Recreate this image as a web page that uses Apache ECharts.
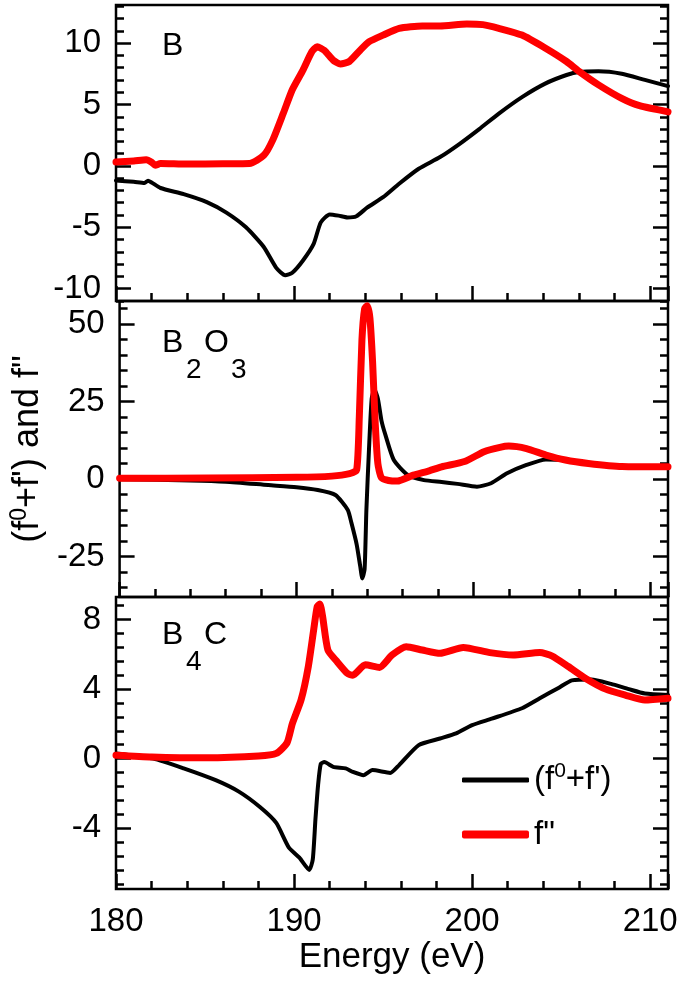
<!DOCTYPE html>
<html><head><meta charset="utf-8">
<script src="https://cdn.jsdelivr.net/npm/echarts@6/dist/echarts.min.js"></script>
<style>html,body{margin:0;padding:0;background:#fff}#c{width:685px;height:988px}</style>
</head><body><div id="c"></div>
<script>
// ---------- data ----------
const p1BlackE=[180,181,181.6,181.8,182,182.5,183.8,185.1,186.2,187.3,188.3,189,189.5,189.9,190.5,191.1,191.5,192,192.5,193,193.5,194.1,195,195.9,197,198.2,199.3,200.4,201.5,202.8,204.1,205.3,206,207.1,208.4,209.7,211];
const p1BlackV=[-1.18,-1.3,-1.4,-1.2,-1.35,-1.8,-2.3,-2.95,-3.8,-5.0,-6.6,-8.3,-8.9,-8.7,-7.7,-6.35,-4.6,-3.95,-4.05,-4.2,-4.1,-3.4,-2.55,-1.45,-0.23,0.72,1.8,3.0,4.26,5.6,6.7,7.4,7.65,7.7,7.5,7.0,6.5];
const p1RedE=[180,181,181.7,182,182.2,182.5,184,186,187.5,188.3,188.8,189.4,189.9,190.5,191,191.3,191.7,192.2,192.6,193.1,193.7,194.2,195,195.9,197.2,198.2,199.7,200.6,201.5,202.8,204.1,205.3,206,207.1,208.4,209.4,211];
const p1RedV=[0.31,0.4,0.5,0.3,0.05,0.2,0.15,0.18,0.2,0.86,2.1,4.3,6.2,7.8,9.3,9.7,9.4,8.6,8.3,8.5,9.4,10.1,10.65,11.2,11.4,11.4,11.55,11.5,11.2,10.65,9.6,8.5,7.7,6.6,5.5,4.9,4.4];

const p2BlackE=[180,184,186,188.4,190,191.2,192.2,192.9,193.1,193.4,193.6,193.72,193.85,193.95,194.1,194.25,194.4,194.6,194.8,195,195.5,196.3,197.2,198.2,199.1,200.2,201,201.9,203,204.1,205.2,206.5,208.4,211];
const p2BlackV=[0,-0.4,-0.8,-1.9,-2.6,-3.5,-5.1,-9.9,-14,-21,-28,-32,-29,-10,10,26,29,26,19,14.8,6.2,1.35,-0.3,-0.9,-1.5,-2.4,-1.3,1.9,4.6,6.4,6.2,5.1,4.3,4.1];
const p2RedE=[180,185,190,192,193,193.4,193.55,193.7,193.85,194,194.15,194.3,194.45,194.6,194.8,195.2,195.7,196.6,197.5,198.2,199.5,200.6,201.5,202,203,204.1,205.2,206.5,208.4,211];
const p2RedV=[0.3,0.4,0.6,1.0,1.8,3,20,45,55,56,52,38,18,5,0.5,-0.4,-0.6,1.3,2.7,4.0,5.7,8.9,10.3,10.7,9.9,7.8,6.2,5.1,4.1,4.0];

const p3BlackE=[180,182.1,183.8,185.6,186.9,188.1,189,189.7,190.3,190.85,191.05,191.2,191.35,191.5,191.7,192.2,192.9,193.3,193.9,194.4,195.4,195.9,197,198.2,199.1,200,201.1,202.8,203.8,204.9,205.6,206.7,207.8,208.8,209.7,211];
const p3BlackV=[0.3,0,-0.56,-1.24,-1.9,-2.8,-3.7,-5.1,-5.7,-6.4,-5.8,-3.5,-1.5,-0.3,-0.2,-0.47,-0.56,-0.76,-0.95,-0.66,-0.82,-0.37,0.78,1.16,1.45,1.93,2.3,2.9,3.47,4.1,4.5,4.56,4.3,4.0,3.75,3.66];
const p3RedE=[180,182,185,188,189,189.6,189.9,190.4,190.8,191.1,191.3,191.45,191.6,191.9,192.4,193,193.3,194,194.8,195.5,196.3,197.2,198.2,199.5,201,202.3,203.8,204.5,205.4,206.4,207.5,208.6,209.7,211];
const p3RedV=[0.2,0.1,0.05,0.15,0.3,0.9,2.0,3.4,5.3,7.4,8.75,8.9,8.2,6.25,5.6,4.9,4.8,5.4,5.25,5.96,6.44,6.25,6.06,6.4,6.1,5.96,6.1,5.9,5.3,4.6,4.0,3.66,3.37,3.47];

// ticks
const yMajor1=[-10,-5,0,5,10];
const yMinor1=[-11,-10,-9,-8,-7,-6,-5,-4,-3,-2,-1,0,1,2,3,4,5,6,7,8,9,10,11,12,13];
const yMajor2=[-25,0,25,50];
const yMinor2=[-35,-30,-25,-20,-15,-10,-5,0,5,10,15,20,25,30,35,40,45,50,55];
const yMajor3=[-4,0,4,8];
const yMinor3=[-7.2,-6.4,-5.6,-4.8,-4,-3.2,-2.4,-1.6,-0.8,0,0.8,1.6,2.4,3.2,4,4.8,5.6,6.4,7.2,8,8.8];
const xMajorTicks=[180,190,200,210];
const seriesNames=["(f0+f')",'f"'];

// ---------- layout ----------
const FONT='Liberation Sans, Arial, sans-serif';
const grids=[{top:5,height:296},{top:301,height:296},{top:597,height:292}];
const yRanges=[[-11,13.1],[-38,57.5],[-7.5,9.3]];
const yMaj=[yMajor1,yMajor2,yMajor3], yMin=[yMinor1,yMinor2,yMinor3];
const TW=2.5;
const noLine={show:false,onZero:false};

const gridOpt=grids.map(g=>({left:116,width:552,top:g.top,height:g.height,show:true,borderColor:'#000',borderWidth:TW,backgroundColor:'transparent'}));
const xAxes=[],yAxes=[];
grids.forEach((g,i)=>{
  const base={type:'value',gridIndex:i,min:180,max:211,position:'bottom',axisLine:noLine,splitLine:{show:false}};
  xAxes.push(Object.assign({},base,{interval:2,axisTick:{inside:true,length:8,lineStyle:{width:TW,color:'#000'}},axisLabel:{show:false}}));
  xAxes.push(Object.assign({},base,{interval:10,axisTick:{inside:true,length:15,lineStyle:{width:TW,color:'#000'}},
    axisLabel:{show:i===2,margin:16,fontSize:33,color:'#000',fontFamily:FONT,
      customValues:xMajorTicks,align:'center',alignMinLabel:'center'},
    name:i===2?'Energy (eV)':'',nameLocation:'middle',nameGap:51,nameTextStyle:{fontSize:35,color:'#000',fontFamily:FONT}}));
  ['left','right'].forEach(pos=>{
    const yb={type:'value',gridIndex:i,min:yRanges[i][0],max:yRanges[i][1],position:pos,axisLine:noLine,splitLine:{show:false}};
    yAxes.push(Object.assign({},yb,{axisTick:{inside:true,length:8,customValues:yMin[i],lineStyle:{width:TW,color:'#000'}},axisLabel:{show:false}}));
    const major=Object.assign({},yb,{axisTick:{inside:true,length:15,customValues:yMaj[i],lineStyle:{width:TW,color:'#000'}},
      axisLabel:{show:pos==='left',customValues:yMaj[i],margin:15,fontSize:33,color:'#000',fontFamily:FONT}});
    if(pos==='left'&&i===1){
      major.name="{p|(f}{s|0}{p|+f') and f\"}";
      major.nameLocation='middle';major.nameRotate=90;major.nameGap=52;
      major.nameTextStyle={fontFamily:FONT,color:'#000',rich:{p:{fontSize:36,lineHeight:40,fontFamily:FONT,color:'#000'},s:{fontSize:23,lineHeight:23,verticalAlign:'top',fontFamily:FONT,color:'#000'}}};
    }
    yAxes.push(major);
  });
});

const pairs=(E,V)=>E.map((e,k)=>[e,V[k]]);
const curves=[[p1BlackE,p1BlackV,p1RedE,p1RedV],[p2BlackE,p2BlackV,p2RedE,p2RedV],[p3BlackE,p3BlackV,p3RedE,p3RedV]];
const series=[];
curves.forEach((c,i)=>{
  series.push({name:seriesNames[0],type:'line',xAxisIndex:2*i,yAxisIndex:4*i,data:pairs(c[0],c[1]),showSymbol:false,symbol:'none',smooth:0.2,
    lineStyle:{color:'#000',width:4,cap:'round',join:'round'},itemStyle:{color:'#000'},z:2});
  series.push({name:seriesNames[1],type:'line',xAxisIndex:2*i,yAxisIndex:4*i,data:pairs(c[2],c[3]),showSymbol:false,symbol:'none',smooth:0.2,
    lineStyle:{color:'#ff0000',width:7,cap:'round',join:'round'},itemStyle:{color:'#ff0000'},z:3});
});

const txt=(t,x,y,fs)=>({type:'text',left:x,top:y,style:{text:t,fontSize:fs,fontFamily:FONT,fill:'#000'}});
const graphic=[
  txt('B',162,30,32),
  txt('B',162,327,32), txt('2',186,356,28), txt('O',204,327,32), txt('3',231,356,28),
  txt('B',162,619,32), txt('4',186,648,28), txt('C',204,619,32)
];

const richLeg={p:{fontSize:33,lineHeight:38,fontFamily:FONT,color:'#000'},s:{fontSize:21,lineHeight:21,verticalAlign:'top',fontFamily:FONT,color:'#000'}};
const legendCommon={orient:'vertical',left:457,itemWidth:67,icon:'roundRect',itemGap:0,
  textStyle:{color:'#000',fontFamily:FONT,rich:richLeg},
  formatter:n=>n===seriesNames[0]?"{p|(f}{s|0}{p|+f')}":"{p|f\"}"};

const chart=echarts.init(document.getElementById('c'),null,{renderer:'canvas'});
chart.setOption({
  animation:false,
  backgroundColor:'#fff',
  grid:gridOpt,xAxis:xAxes,yAxis:yAxes,series:series,graphic:graphic,
  legend:[
    Object.assign({},legendCommon,{top:756,itemHeight:5,data:[{name:seriesNames[0],itemStyle:{color:'#000'}}]}),
    Object.assign({},legendCommon,{top:813,itemHeight:8,data:[{name:seriesNames[1],itemStyle:{color:'#ff0000'}}]})
  ]
});
</script></body></html>
